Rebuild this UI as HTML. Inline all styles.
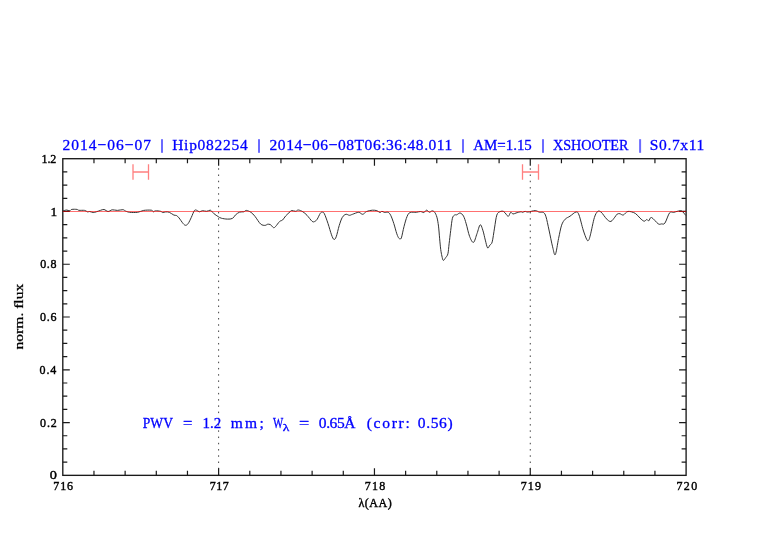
<!DOCTYPE html>
<html><head><meta charset="utf-8">
<style>
html,body{margin:0;padding:0;background:#fff;}
body{width:782px;height:542px;overflow:hidden;position:relative;}
svg{position:absolute;left:0;top:0;will-change:transform;}
.t{font-family:"Liberation Serif",serif;}
</style></head><body>
<svg width="782" height="542" viewBox="0 0 782 542">
<rect x="0" y="0" width="782" height="542" fill="#fff"/>
<g>
<line x1="218.62" y1="168.25" x2="218.62" y2="475.35" stroke="#444" stroke-width="1" stroke-dasharray="1.5 4.74"/>
<line x1="530.27" y1="168.25" x2="530.27" y2="475.35" stroke="#444" stroke-width="1" stroke-dasharray="1.5 4.74"/>
<path d="M63.00 211.00 C63.60 210.83 65.48 210.03 66.60 210.00 C67.72 209.97 68.83 210.90 69.70 210.80 C70.57 210.70 70.60 209.63 71.80 209.40 C73.00 209.17 75.72 209.25 76.90 209.40 C78.08 209.55 77.62 210.13 78.90 210.30 C80.18 210.47 83.15 210.13 84.60 210.40 C86.05 210.67 86.75 211.72 87.60 211.90 C88.45 212.08 88.77 211.40 89.70 211.50 C90.63 211.60 92.10 212.45 93.20 212.50 C94.30 212.55 95.10 212.15 96.30 211.80 C97.50 211.45 99.12 210.78 100.40 210.40 C101.68 210.02 102.72 209.32 104.00 209.50 C105.28 209.68 106.73 211.45 108.10 211.50 C109.47 211.55 110.67 209.98 112.20 209.80 C113.73 209.62 115.52 210.42 117.30 210.40 C119.08 210.38 121.53 209.60 122.90 209.70 C124.27 209.80 124.38 210.57 125.50 211.00 C126.62 211.43 127.57 212.08 129.60 212.30 C131.63 212.52 135.35 212.62 137.70 212.30 C140.05 211.98 141.42 210.75 143.70 210.40 C145.98 210.05 149.78 209.97 151.40 210.20 C153.02 210.43 152.72 211.70 153.40 211.80 C154.08 211.90 154.30 210.88 155.50 210.80 C156.70 210.72 159.42 211.02 160.60 211.30 C161.78 211.58 161.75 212.40 162.60 212.50 C163.45 212.60 164.58 211.93 165.70 211.90 C166.82 211.87 167.93 211.77 169.30 212.30 C170.67 212.83 172.72 214.57 173.90 215.10 C175.08 215.63 175.55 215.03 176.40 215.50 C177.25 215.97 177.88 216.57 179.00 217.90 C180.12 219.23 182.00 222.27 183.10 223.50 C184.20 224.73 184.75 225.30 185.60 225.30 C186.45 225.30 187.25 224.82 188.20 223.50 C189.15 222.18 190.28 219.53 191.30 217.40 C192.32 215.27 193.45 211.90 194.30 210.70 C195.15 209.50 195.55 210.02 196.40 210.20 C197.25 210.38 198.38 211.72 199.40 211.80 C200.42 211.88 201.30 210.78 202.50 210.70 C203.70 210.62 205.35 211.38 206.60 211.30 C207.85 211.22 209.18 210.25 210.00 210.20 C210.82 210.15 210.82 210.40 211.50 211.00 C212.18 211.60 212.98 212.87 214.10 213.80 C215.22 214.73 217.00 215.87 218.20 216.60 C219.40 217.33 219.77 217.78 221.30 218.20 C222.83 218.62 225.53 219.07 227.40 219.10 C229.27 219.13 231.13 219.12 232.50 218.40 C233.87 217.68 234.40 215.85 235.60 214.80 C236.80 213.75 238.33 212.60 239.70 212.10 C241.07 211.60 242.70 212.08 243.80 211.80 C244.90 211.52 245.12 210.32 246.30 210.40 C247.48 210.48 249.45 211.30 250.90 212.30 C252.35 213.30 253.38 214.45 255.00 216.40 C256.62 218.35 258.90 222.50 260.60 224.00 C262.30 225.50 264.08 225.35 265.20 225.40 C266.32 225.45 266.43 224.43 267.30 224.30 C268.17 224.17 269.38 224.05 270.40 224.60 C271.42 225.15 272.55 227.27 273.40 227.60 C274.25 227.93 274.47 227.62 275.50 226.60 C276.53 225.58 278.42 222.60 279.60 221.50 C280.78 220.40 281.58 220.93 282.60 220.00 C283.62 219.07 284.47 217.27 285.70 215.90 C286.93 214.53 289.02 212.70 290.00 211.80 C290.98 210.90 290.65 210.58 291.60 210.50 C292.55 210.42 294.58 211.38 295.70 211.30 C296.82 211.22 297.10 209.92 298.30 210.00 C299.50 210.08 301.45 210.92 302.90 211.80 C304.35 212.68 305.47 213.72 307.00 215.30 C308.53 216.88 310.82 220.27 312.10 221.30 C313.38 222.33 313.85 221.85 314.70 221.50 C315.55 221.15 316.27 220.57 317.20 219.20 C318.13 217.83 319.45 214.48 320.30 213.30 C321.15 212.12 321.62 212.02 322.30 212.10 C322.98 212.18 323.45 211.90 324.40 213.80 C325.35 215.70 326.82 220.00 328.00 223.50 C329.18 227.00 330.52 232.15 331.50 234.80 C332.48 237.45 333.12 239.07 333.90 239.40 C334.68 239.73 335.32 239.10 336.20 236.80 C337.08 234.50 338.18 228.83 339.20 225.60 C340.22 222.37 341.18 219.28 342.30 217.40 C343.42 215.52 344.72 214.65 345.90 214.30 C347.08 213.95 348.30 215.30 349.40 215.30 C350.50 215.30 350.95 214.80 352.50 214.30 C354.05 213.80 357.00 212.30 358.70 212.30 C360.40 212.30 361.38 214.43 362.70 214.30 C364.02 214.17 365.00 212.18 366.60 211.50 C368.20 210.82 370.58 210.33 372.30 210.20 C374.02 210.07 375.62 210.32 376.90 210.70 C378.18 211.08 379.15 212.40 380.00 212.50 C380.85 212.60 381.23 211.30 382.00 211.30 C382.77 211.30 383.58 212.33 384.60 212.50 C385.62 212.67 387.08 211.83 388.10 212.30 C389.12 212.77 389.75 213.43 390.70 215.30 C391.65 217.17 392.78 220.42 393.80 223.50 C394.82 226.58 395.95 231.33 396.80 233.80 C397.65 236.27 398.33 237.52 398.90 238.30 C399.47 239.08 399.78 238.57 400.20 238.50 C400.62 238.43 400.77 239.88 401.40 237.90 C402.03 235.92 403.05 230.18 404.00 226.60 C404.95 223.02 406.08 218.75 407.10 216.40 C408.12 214.05 408.57 213.18 410.10 212.50 C411.63 211.82 414.58 212.47 416.30 212.30 C418.02 212.13 419.13 211.47 420.40 211.50 C421.67 211.53 422.88 212.72 423.90 212.50 C424.92 212.28 425.55 210.23 426.50 210.20 C427.45 210.17 428.70 212.20 429.60 212.30 C430.50 212.40 431.07 210.82 431.90 210.80 C432.73 210.78 433.77 211.13 434.60 212.20 C435.43 213.27 436.25 214.88 436.90 217.20 C437.55 219.52 438.05 222.60 438.50 226.10 C438.95 229.60 439.23 234.33 439.60 238.20 C439.97 242.07 440.32 246.33 440.70 249.30 C441.08 252.27 441.47 254.15 441.90 256.00 C442.33 257.85 442.67 260.13 443.30 260.40 C443.93 260.67 444.93 258.70 445.70 257.60 C446.47 256.50 447.33 256.10 447.90 253.80 C448.47 251.50 448.63 247.68 449.10 243.80 C449.57 239.92 450.15 234.75 450.70 230.50 C451.25 226.25 451.75 220.88 452.40 218.30 C453.05 215.72 453.87 215.58 454.60 215.00 C455.33 214.42 455.88 215.13 456.80 214.80 C457.72 214.47 458.98 212.78 460.10 213.00 C461.22 213.22 462.48 214.30 463.50 216.10 C464.52 217.90 465.18 220.42 466.20 223.80 C467.22 227.18 468.38 233.30 469.60 236.40 C470.82 239.50 472.27 242.87 473.50 242.40 C474.73 241.93 475.88 236.53 477.00 233.60 C478.12 230.67 479.20 225.27 480.20 224.80 C481.20 224.33 482.15 228.25 483.00 230.80 C483.85 233.35 484.53 237.25 485.30 240.10 C486.07 242.95 486.83 247.07 487.60 247.90 C488.37 248.73 489.13 246.10 489.90 245.10 C490.67 244.10 491.43 244.73 492.20 241.90 C492.97 239.07 493.73 232.57 494.50 228.10 C495.27 223.63 495.87 217.85 496.80 215.10 C497.73 212.35 498.95 212.20 500.10 211.60 C501.25 211.00 502.70 211.07 503.70 211.50 C504.70 211.93 505.32 213.40 506.10 214.20 C506.88 215.00 507.63 216.60 508.40 216.30 C509.17 216.00 509.93 212.78 510.70 212.40 C511.47 212.02 512.12 213.90 513.00 214.00 C513.88 214.10 514.70 213.37 516.00 213.00 C517.30 212.63 519.70 211.90 520.80 211.80 C521.90 211.70 521.90 212.47 522.60 212.40 C523.30 212.33 524.10 211.47 525.00 211.40 C525.90 211.33 526.30 212.13 528.00 212.00 C529.70 211.87 533.30 210.57 535.20 210.60 C537.10 210.63 538.00 211.87 539.40 212.20 C540.80 212.53 542.50 211.83 543.60 212.60 C544.70 213.37 545.10 213.90 546.00 216.80 C546.90 219.70 547.90 225.00 549.00 230.00 C550.10 235.00 551.55 242.70 552.60 246.80 C553.65 250.90 554.30 256.00 555.30 254.60 C556.30 253.20 557.55 243.30 558.60 238.40 C559.65 233.50 560.50 228.40 561.60 225.20 C562.70 222.00 563.80 220.70 565.20 219.20 C566.60 217.70 568.20 217.40 570.00 216.20 C571.80 215.00 574.50 212.20 576.00 212.00 C577.50 211.80 577.80 212.00 579.00 215.00 C580.20 218.00 581.90 225.90 583.20 230.00 C584.50 234.10 585.90 237.90 586.80 239.60 C587.70 241.30 588.00 240.98 588.60 240.20 C589.20 239.42 589.43 238.68 590.40 234.90 C591.37 231.12 593.17 221.42 594.40 217.50 C595.63 213.58 596.68 212.30 597.80 211.40 C598.92 210.50 600.12 211.45 601.10 212.10 C602.08 212.75 602.65 214.02 603.70 215.30 C604.75 216.58 606.18 218.78 607.40 219.80 C608.62 220.82 609.77 221.83 611.00 221.40 C612.23 220.97 613.77 218.42 614.80 217.20 C615.83 215.98 616.35 214.68 617.20 214.10 C618.05 213.52 618.88 213.55 619.90 213.70 C620.92 213.85 621.95 215.38 623.30 215.00 C624.65 214.62 626.00 211.67 628.00 211.40 C630.00 211.13 633.30 212.28 635.30 213.40 C637.30 214.52 638.53 216.80 640.00 218.10 C641.47 219.40 642.97 220.97 644.10 221.20 C645.23 221.43 646.02 219.57 646.80 219.50 C647.58 219.43 648.02 221.13 648.80 220.80 C649.58 220.47 649.93 217.00 651.50 217.50 C653.07 218.00 656.53 222.73 658.20 223.80 C659.87 224.87 660.38 224.02 661.50 223.90 C662.62 223.78 663.55 224.95 664.90 223.10 C666.25 221.25 668.15 214.58 669.60 212.80 C671.05 211.02 672.37 212.63 673.60 212.40 C674.83 212.17 675.65 211.63 677.00 211.40 C678.35 211.17 680.25 210.33 681.70 211.00 C683.15 211.67 685.03 214.67 685.70 215.40" fill="none" stroke="#333" stroke-width="1.0" stroke-linejoin="round"/>
<rect x="62.8" y="158.7" width="623.30" height="316.65" fill="none" stroke="#1a1a1a" stroke-width="1.35"/>
<path d="M93.97 475.35 V470.85 M93.97 158.70 V163.20 M125.13 475.35 V470.85 M125.13 158.70 V163.20 M156.30 475.35 V470.85 M156.30 158.70 V163.20 M187.46 475.35 V470.85 M187.46 158.70 V163.20 M218.62 475.35 V468.35 M218.62 158.70 V165.70 M249.79 475.35 V470.85 M249.79 158.70 V163.20 M280.95 475.35 V470.85 M280.95 158.70 V163.20 M312.12 475.35 V470.85 M312.12 158.70 V163.20 M343.28 475.35 V470.85 M343.28 158.70 V163.20 M374.45 475.35 V468.35 M374.45 158.70 V165.70 M405.62 475.35 V470.85 M405.62 158.70 V163.20 M436.78 475.35 V470.85 M436.78 158.70 V163.20 M467.95 475.35 V470.85 M467.95 158.70 V163.20 M499.11 475.35 V470.85 M499.11 158.70 V163.20 M530.27 475.35 V468.35 M530.27 158.70 V165.70 M561.44 475.35 V470.85 M561.44 158.70 V163.20 M592.60 475.35 V470.85 M592.60 158.70 V163.20 M623.77 475.35 V470.85 M623.77 158.70 V163.20 M654.93 475.35 V470.85 M654.93 158.70 V163.20 M62.80 462.16 H67.30 M686.10 462.16 H681.60 M62.80 448.96 H67.30 M686.10 448.96 H681.60 M62.80 435.77 H67.30 M686.10 435.77 H681.60 M62.80 422.57 H69.80 M686.10 422.57 H679.10 M62.80 409.38 H67.30 M686.10 409.38 H681.60 M62.80 396.19 H67.30 M686.10 396.19 H681.60 M62.80 382.99 H67.30 M686.10 382.99 H681.60 M62.80 369.80 H69.80 M686.10 369.80 H679.10 M62.80 356.61 H67.30 M686.10 356.61 H681.60 M62.80 343.41 H67.30 M686.10 343.41 H681.60 M62.80 330.22 H67.30 M686.10 330.22 H681.60 M62.80 317.02 H69.80 M686.10 317.02 H679.10 M62.80 303.83 H67.30 M686.10 303.83 H681.60 M62.80 290.64 H67.30 M686.10 290.64 H681.60 M62.80 277.44 H67.30 M686.10 277.44 H681.60 M62.80 264.25 H69.80 M686.10 264.25 H679.10 M62.80 251.06 H67.30 M686.10 251.06 H681.60 M62.80 237.86 H67.30 M686.10 237.86 H681.60 M62.80 224.67 H67.30 M686.10 224.67 H681.60 M62.80 211.47 H69.80 M686.10 211.47 H679.10 M62.80 198.28 H67.30 M686.10 198.28 H681.60 M62.80 185.09 H67.30 M686.10 185.09 H681.60 M62.80 171.89 H67.30 M686.10 171.89 H681.60" stroke="#1a1a1a" stroke-width="1.2" fill="none"/>
<line x1="62.8" y1="211.47" x2="686.1" y2="211.47" stroke="#ff0000" stroke-opacity="0.56" stroke-width="1.1"/>
<g stroke="#ff8080" stroke-width="1.3" fill="none">
<path d="M133 164.2 V179.8 M148.5 164.2 V179.8 M133 172 H148.5"/>
<path d="M522.5 164.2 V179.8 M538.5 164.2 V179.8 M522.5 172 H538.5"/>
</g>
<rect x="161.00" y="139.2" width="2.0" height="13.6" fill="#0000ff" opacity="0.58"/><rect x="258.00" y="139.2" width="2.0" height="13.6" fill="#0000ff" opacity="0.58"/><rect x="462.00" y="139.2" width="2.0" height="13.6" fill="#0000ff" opacity="0.58"/><rect x="542.00" y="139.2" width="2.0" height="13.6" fill="#0000ff" opacity="0.58"/><rect x="639.10" y="139.2" width="2.0" height="13.6" fill="#0000ff" opacity="0.58"/>
</g>
<text class="t" x="62.54" y="150.45" font-size="15.5" fill="#0000ff" stroke="#0000ff" stroke-width="0.3" font-weight="normal" textLength="88.54" lengthAdjust="spacing">2014−06−07</text><text class="t" x="172.16" y="150.45" font-size="15.5" fill="#0000ff" stroke="#0000ff" stroke-width="0.3" font-weight="normal" textLength="75.61" lengthAdjust="spacing">Hip082254</text><text class="t" x="269.54" y="150.45" font-size="15.5" fill="#0000ff" stroke="#0000ff" stroke-width="0.3" font-weight="normal" textLength="182.82" lengthAdjust="spacing">2014−06−08T06:36:48.011</text><text class="t" x="473.15" y="150.45" font-size="15.5" fill="#0000ff" stroke="#0000ff" stroke-width="0.3" font-weight="normal" textLength="58.70" lengthAdjust="spacingAndGlyphs">AM=1.15</text><text class="t" x="552.90" y="150.45" font-size="15.5" fill="#0000ff" stroke="#0000ff" stroke-width="0.3" font-weight="normal" textLength="75.59" lengthAdjust="spacingAndGlyphs">XSHOOTER</text><text class="t" x="649.75" y="150.45" font-size="15.5" fill="#0000ff" stroke="#0000ff" stroke-width="0.3" font-weight="normal" textLength="54.50" lengthAdjust="spacing">S0.7x11</text><text class="t" x="49.84" y="479.40" font-size="12" fill="#000" stroke="#000" stroke-width="0.4" font-weight="normal" textLength="7.13" lengthAdjust="spacingAndGlyphs">0</text><text class="t" x="40.10" y="426.60" font-size="12" fill="#000" stroke="#000" stroke-width="0.4" font-weight="normal" textLength="16.56" lengthAdjust="spacing">0.2</text><text class="t" x="39.60" y="373.90" font-size="12" fill="#000" stroke="#000" stroke-width="0.4" font-weight="normal" textLength="16.55" lengthAdjust="spacing">0.4</text><text class="t" x="40.09" y="321.10" font-size="12" fill="#000" stroke="#000" stroke-width="0.4" font-weight="normal" textLength="16.34" lengthAdjust="spacing">0.6</text><text class="t" x="40.23" y="268.40" font-size="12" fill="#000" stroke="#000" stroke-width="0.4" font-weight="normal" textLength="16.26" lengthAdjust="spacing">0.8</text><text class="t" x="50.49" y="215.60" font-size="12" fill="#000" stroke="#000" stroke-width="0.4" font-weight="normal" textLength="6.67" lengthAdjust="spacingAndGlyphs">1</text><text class="t" x="41.49" y="162.90" font-size="12" fill="#000" stroke="#000" stroke-width="0.4" font-weight="normal" textLength="14.82" lengthAdjust="spacing">1.2</text><text class="t" x="53.29" y="490.40" font-size="12" fill="#000" stroke="#000" stroke-width="0.4" font-weight="normal" textLength="19.75" lengthAdjust="spacing">716</text><text class="t" x="209.75" y="490.40" font-size="12" fill="#000" stroke="#000" stroke-width="0.4" font-weight="normal" textLength="19.09" lengthAdjust="spacing">717</text><text class="t" x="364.74" y="490.40" font-size="12" fill="#000" stroke="#000" stroke-width="0.4" font-weight="normal" textLength="20.58" lengthAdjust="spacing">718</text><text class="t" x="520.65" y="490.40" font-size="12" fill="#000" stroke="#000" stroke-width="0.4" font-weight="normal" textLength="20.37" lengthAdjust="spacing">719</text><text class="t" x="676.38" y="490.40" font-size="12" fill="#000" stroke="#000" stroke-width="0.4" font-weight="normal" textLength="20.94" lengthAdjust="spacing">720</text><text class="t" x="142.82" y="427.90" font-size="15.5" fill="#0000ff" stroke="#0000ff" stroke-width="0.32" font-weight="normal" textLength="30.13" lengthAdjust="spacingAndGlyphs">PWV</text><text class="t" x="182.91" y="427.90" font-size="15.5" fill="#0000ff" stroke="#0000ff" stroke-width="0.32" font-weight="normal" textLength="9.38" lengthAdjust="spacingAndGlyphs">=</text><text class="t" x="202.46" y="427.90" font-size="15.5" fill="#0000ff" stroke="#0000ff" stroke-width="0.32" font-weight="normal" textLength="18.71" lengthAdjust="spacingAndGlyphs">1.2</text><text class="t" x="230.80" y="427.90" font-size="15.5" fill="#0000ff" stroke="#0000ff" stroke-width="0.32" font-weight="normal" textLength="32.94" lengthAdjust="spacing">mm;</text><text class="t" x="273.01" y="428.40" font-size="15.5" fill="#0000ff" stroke="#0000ff" stroke-width="0.32" font-weight="normal" textLength="10.22" lengthAdjust="spacingAndGlyphs">W</text><text class="t" x="282.88" y="431.00" font-size="11" fill="#0000ff" stroke="#0000ff" stroke-width="0.32" font-weight="normal" textLength="6.61" lengthAdjust="spacingAndGlyphs">λ</text><text class="t" x="299.03" y="427.90" font-size="15.5" fill="#0000ff" stroke="#0000ff" stroke-width="0.32" font-weight="normal" textLength="10.23" lengthAdjust="spacingAndGlyphs">=</text><text class="t" x="318.86" y="427.90" font-size="15.5" fill="#0000ff" stroke="#0000ff" stroke-width="0.32" font-weight="normal" textLength="36.60" lengthAdjust="spacing">0.65Å</text><text class="t" x="366.63" y="427.90" font-size="15.5" fill="#0000ff" stroke="#0000ff" stroke-width="0.32" font-weight="normal" textLength="43.13" lengthAdjust="spacing">(corr:</text><text class="t" x="417.85" y="427.90" font-size="15.5" fill="#0000ff" stroke="#0000ff" stroke-width="0.32" font-weight="normal" textLength="34.70" lengthAdjust="spacing">0.56)</text><text class="t" x="358.46" y="506.90" font-size="12" fill="#000" stroke="#000" stroke-width="0.4" font-weight="normal" textLength="33.18" lengthAdjust="spacing">λ(AA)</text>
<text class="t" transform="translate(23.4,349.50) rotate(-90)" x="0" y="0" font-size="12" fill="#000" stroke="#000" stroke-width="0.25" textLength="65.80" lengthAdjust="spacingAndGlyphs">norm. flux</text>
</svg>
</body></html>
